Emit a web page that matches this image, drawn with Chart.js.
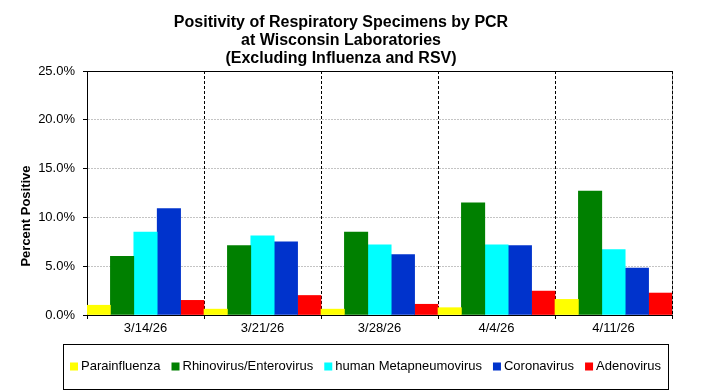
<!DOCTYPE html>
<html>
<head>
<meta charset="utf-8">
<title>Positivity of Respiratory Specimens by PCR</title>
<script src="https://cdn.jsdelivr.net/npm/chart.js@4/dist/chart.umd.min.js"></script>
<style>
    html, body { margin: 0; padding: 0; background: #fff; }
    #chart { display: block; }
</style>
</head>
<body>
<canvas id="chart" width="704" height="391"></canvas>
<script>
// Chart data (percent positive by week)
var weeks = ['3/14/26', '3/21/26', '3/28/26', '4/4/26', '4/11/26'];
var seriesNames = ['Parainfluenza', 'Rhinovirus/Enterovirus', 'human Metapneumovirus', 'Coronavirus', 'Adenovirus'];
var parainfluenza = [1.0, 0.6, 0.6, 0.75, 1.6];
var rhinoEntero = [6.0, 7.1, 8.5, 11.5, 12.7];
var metapneumo = [8.5, 8.1, 7.2, 7.2, 6.7];
var coronavirus = [10.9, 7.5, 6.2, 7.1, 4.8];
var adenovirus = [1.5, 2.0, 1.1, 2.45, 2.25];
var yTicks = [0, 5, 10, 15, 20, 25];
var titleLines = ['Positivity of Respiratory Specimens by PCR', 'at Wisconsin Laboratories', '(Excluding Influenza and RSV)'];
var yTitle = 'Percent Positive';

var colors = ['#ffff00', '#008000', '#00ffff', '#0033cc', '#ff0000'];
var fontFamily = '"Liberation Sans", Arial, sans-serif';

// Title, axis title, frame and boxed legend drawn by hand to match the Excel layout
var decorations = {
    id: 'decorations',
    beforeDraw: function(chart) {
        var ctx = chart.ctx;
        var area = chart.chartArea;
        ctx.save();
        ctx.strokeStyle = '#999';
        ctx.lineWidth = 1;
        ctx.beginPath();
        ctx.moveTo(area.right + 0.5, area.top);
        ctx.lineTo(area.right + 0.5, area.bottom);
        ctx.stroke();
        ctx.restore();
    },
    afterDraw: function(chart) {
        var ctx = chart.ctx;
        var area = chart.chartArea;
        ctx.save();

        // top border
        ctx.strokeStyle = '#000';
        ctx.lineWidth = 1;
        ctx.beginPath();
        ctx.moveTo(area.left - 4, area.top + 0.5);
        ctx.lineTo(area.right + 1, area.top + 0.5);
        ctx.stroke();

        // title
        ctx.fillStyle = '#000';
        ctx.font = 'bold 16px ' + fontFamily;
        ctx.textAlign = 'center';
        ctx.textBaseline = 'alphabetic';
        var titleY = [27, 45, 63];
        titleLines.forEach(function(line, i) {
            ctx.fillText(line, 341, titleY[i]);
        });

        // y axis title
        ctx.save();
        ctx.translate(26, 216);
        ctx.rotate(-Math.PI / 2);
        ctx.font = 'bold 13px ' + fontFamily;
        ctx.textBaseline = 'middle';
        ctx.fillText(yTitle, 0, 0);
        ctx.restore();

        // legend box
        var box = { left: 63, top: 344, right: 668, bottom: 389 };
        ctx.strokeStyle = '#000';
        ctx.strokeRect(box.left + 0.5, box.top + 0.5, box.right - box.left, box.bottom - box.top);

        ctx.font = '13px ' + fontFamily;
        ctx.textAlign = 'left';
        ctx.textBaseline = 'middle';
        var sq = 8, gap = 3, itemGap = 11;
        var total = 0;
        seriesNames.forEach(function(name, i) {
            total += sq + gap + ctx.measureText(name).width + (i < seriesNames.length - 1 ? itemGap : 0);
        });
        var x = Math.round((box.left + box.right) / 2 - total / 2);
        var cy = 366.5;
        seriesNames.forEach(function(name, i) {
            ctx.fillStyle = colors[i];
            ctx.fillRect(x, cy - 4, sq, sq);
            ctx.fillStyle = '#000';
            ctx.fillText(name, x + sq + gap, cy);
            x += sq + gap + ctx.measureText(name).width + itemGap;
        });

        ctx.restore();
    }
};

var seriesData = [parainfluenza, rhinoEntero, metapneumo, coronavirus, adenovirus];
var datasets = seriesNames.map(function(name, i) {
    return {
        label: name,
        data: seriesData[i],
        backgroundColor: colors[i],
        borderWidth: 0,
        categoryPercentage: 1,
        barPercentage: 1
    };
});

new Chart(document.getElementById('chart').getContext('2d'), {
    type: 'bar',
    data: {
        labels: weeks,
        datasets: datasets
    },
    options: {
        responsive: false,
        animation: false,
        layout: {
            padding: { left: 0, right: 32, top: 71, bottom: 0 }
        },
        plugins: {
            legend: { display: false },
            title: { display: false },
            tooltip: { enabled: false }
        },
        scales: {
            x: {
                offset: true,
                grid: {
                    offset: true,
                    color: '#000',
                    lineWidth: 1,
                    tickLength: 4,
                    tickColor: '#000',
                    drawOnChartArea: true
                },
                border: {
                    display: true,
                    color: '#000',
                    width: 1,
                    dash: [3, 2]
                },
                ticks: {
                    color: '#000',
                    padding: 2,
                    maxRotation: 0,
                    font: { family: fontFamily, size: 13 }
                },
                afterFit: function(scale) {
                    scale.height = 76;
                }
            },
            y: {
                min: 0,
                max: 25,
                afterBuildTicks: function(scale) {
                    scale.ticks = yTicks.map(function(v) { return { value: v }; });
                },
                grid: {
                    color: '#c4c4c4',
                    lineWidth: 1,
                    tickLength: 4,
                    tickColor: '#000'
                },
                border: {
                    display: true,
                    color: '#000',
                    width: 1,
                    dash: [2, 1]
                },
                ticks: {
                    color: '#000',
                    padding: 8,
                    font: { family: fontFamily, size: 13 },
                    callback: function(v) { return v.toFixed(1) + '%'; }
                },
                afterFit: function(scale) {
                    scale.width = 87;
                }
            }
        }
    },
    plugins: [decorations]
});
</script>
</body>
</html>
